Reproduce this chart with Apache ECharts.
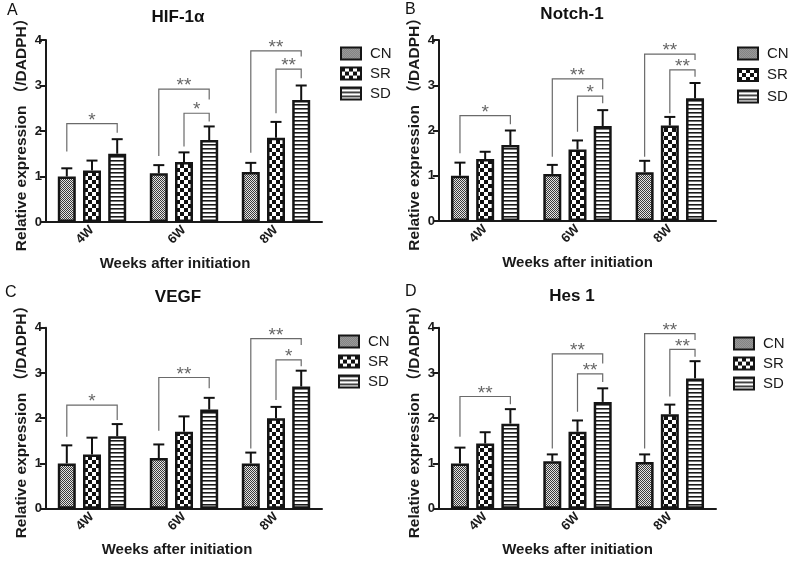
<!DOCTYPE html>
<html><head><meta charset="utf-8">
<script src="https://cdn.jsdelivr.net/npm/echarts@6/dist/echarts.min.js"></script>
<style>html,body{margin:0;padding:0;background:#fff}#c{width:792px;height:566px}</style>
</head><body><div id="c"></div>
<script>
// ---------------- data ----------------
const categories = ['4W', '6W', '8W'];
const groups = ['CN', 'SR', 'SD'];
const yTicks = [0, 1, 2, 3, 4];
const panelLetters = ['A', 'B', 'C', 'D'];
const panelTitles = ['HIF-1α', 'Notch-1', 'VEGF', 'Hes 1'];
const xAxisTitle = 'Weeks after initiation';
const yAxisTitle = 'Relative expression （/DADPH）';

// HIF-1α (mean, SD)
const hifCN = [1.00, 1.07, 1.10];
const hifSR = [1.13, 1.32, 1.85];
const hifSD = [1.50, 1.80, 2.68];
const hifCNsd = [0.18, 0.18, 0.20];
const hifSRsd = [0.22, 0.21, 0.35];
const hifSDsd = [0.32, 0.30, 0.32];
// [category, fromGroup, toGroup, bracketTop, leftLegEnd, rightLegEnd]
const hifBrackets = [[0, 0, 2, 2.16, 1.55, 1.96], [1, 0, 2, 2.92, 1.45, 2.69], [1, 1, 2, 2.39, 1.66, 2.21], [2, 0, 2, 3.76, 1.52, 3.64], [2, 1, 2, 3.36, 2.39, 3.16]];
const hifStars = ['*', '**', '*', '**', '**'];

// Notch-1
const notchCN = [1.00, 1.04, 1.08];
const notchSR = [1.37, 1.58, 2.11];
const notchSD = [1.68, 2.10, 2.71];
const notchCNsd = [0.29, 0.20, 0.25];
const notchSRsd = [0.16, 0.20, 0.19];
const notchSDsd = [0.32, 0.35, 0.34];
const notchBrackets = [[0, 0, 2, 2.33, 1.50, 2.14], [1, 0, 2, 3.14, 1.42, 2.91], [1, 1, 2, 2.76, 1.97, 2.60], [2, 0, 2, 3.69, 1.42, 3.56], [2, 1, 2, 3.34, 2.38, 3.19]];
const notchStars = ['*', '**', '*', '**', '**'];

// VEGF
const vegfCN = [1.00, 1.12, 1.00];
const vegfSR = [1.20, 1.70, 2.00];
const vegfSD = [1.60, 2.19, 2.70];
const vegfCNsd = [0.40, 0.30, 0.24];
const vegfSRsd = [0.37, 0.34, 0.25];
const vegfSDsd = [0.27, 0.26, 0.35];
const vegfBrackets = [[0, 0, 2, 2.29, 1.59, 1.96], [1, 0, 2, 2.90, 1.72, 2.66], [2, 0, 2, 3.76, 1.33, 3.62], [2, 1, 2, 3.29, 2.40, 3.15]];
const vegfStars = ['*', '**', '**', '*'];

// Hes 1
const hesCN = [1.00, 1.05, 1.03];
const hesSR = [1.44, 1.70, 2.09];
const hesSD = [1.88, 2.36, 2.88];
const hesCNsd = [0.35, 0.15, 0.17];
const hesSRsd = [0.25, 0.25, 0.21];
const hesSDsd = [0.32, 0.30, 0.38];
const hesBrackets = [[0, 0, 2, 2.48, 1.59, 2.31], [1, 0, 2, 3.42, 1.33, 3.21], [1, 1, 2, 2.98, 2.14, 2.80], [2, 0, 2, 3.87, 1.33, 3.73], [2, 1, 2, 3.52, 2.48, 3.36]];
const hesStars = ['**', '**', '**', '**', '**'];

// ---------------- styles / layout ----------------
const FONT = '"Liberation Sans", Arial, "Noto Sans CJK SC", sans-serif';
const BAR_W = 18;
const STEP = BAR_W * 1.4;

function mkPattern(kind) {
  const c = document.createElement('canvas');
  const g = c.getContext('2d');
  if (kind === 'fine') {
    c.width = 2; c.height = 2;
    g.fillStyle = '#e4e4e4'; g.fillRect(0, 0, 2, 2);
    g.fillStyle = '#3a3a3a'; g.fillRect(0, 0, 1, 1); g.fillRect(1, 1, 1, 1);
  } else if (kind === 'checker') {
    c.width = 8; c.height = 8;
    g.fillStyle = '#ffffff'; g.fillRect(0, 0, 8, 8);
    g.fillStyle = '#111111'; g.fillRect(0, 0, 4, 4); g.fillRect(4, 4, 4, 4);
  } else {
    c.width = 4; c.height = 4;
    g.fillStyle = '#ffffff'; g.fillRect(0, 0, 4, 4);
    g.fillStyle = '#1a1a1a'; g.fillRect(0, 0, 4, 1);
    g.fillStyle = '#777777'; g.fillRect(0, 1, 4, 1);
  }
  return { image: c, repeat: 'repeat' };
}
const patterns = [mkPattern('fine'), mkPattern('checker'), mkPattern('stripes')];

const panels = [
  { means: [hifCN, hifSR, hifSD], sds: [hifCNsd, hifSRsd, hifSDsd], br: hifBrackets, stars: hifStars,
    grid: { left: 46, top: 40, width: 276, height: 182 }, legend: { left: 335, top: 41, gap: 5 },
    title: [178, 17], letter: [7, 11], namePad: 18 },
  { means: [notchCN, notchSR, notchSD], sds: [notchCNsd, notchSRsd, notchSDsd], br: notchBrackets, stars: notchStars,
    grid: { left: 439, top: 40, width: 277, height: 181 }, legend: { left: 732, top: 41, gap: 6.5 },
    title: [572, 14], letter: [405, 10], namePad: 0 },
  { means: [vegfCN, vegfSR, vegfSD], sds: [vegfCNsd, vegfSRsd, vegfSDsd], br: vegfBrackets, stars: vegfStars,
    grid: { left: 46, top: 327.7, width: 276, height: 181 }, legend: { left: 333, top: 329, gap: 5 },
    title: [178, 297], letter: [5, 292.5], namePad: 14 },
  { means: [hesCN, hesSR, hesSD], sds: [hesCNsd, hesSRsd, hesSDsd], br: hesBrackets, stars: hesStars,
    grid: { left: 439, top: 327.7, width: 277, height: 181 }, legend: { left: 728, top: 331, gap: 5 },
    title: [572, 296.5], letter: [405, 292], namePad: 0 }
];

function errRender(gi) {
  return function (params, api) {
    const cat = api.value(0);
    const p0 = api.coord([cat, api.value(1)]);
    const p1 = api.coord([cat, api.value(2)]);
    const x = p0[0] + (gi - 1) * STEP;
    return {
      type: 'group', children: [
        { type: 'line', shape: { x1: x, y1: p0[1], x2: x, y2: p1[1] }, style: { stroke: '#111', lineWidth: 2 } },
        { type: 'line', shape: { x1: x - 5.5, y1: p1[1], x2: x + 5.5, y2: p1[1] }, style: { stroke: '#111', lineWidth: 2 } }
      ]
    };
  };
}

function bracketRender(br, stars) {
  return function (params, api) {
    const b = br[params.dataIndex];
    const pt = api.coord([b[0], b[3]]);
    const xl = pt[0] + (b[1] - 1) * STEP;
    const xr = pt[0] + (b[2] - 1) * STEP;
    const yt = pt[1];
    const yl = api.coord([b[0], b[4]])[1];
    const yr = api.coord([b[0], b[5]])[1];
    return {
      type: 'group', children: [
        { type: 'polyline', shape: { points: [[xl, yl], [xl, yt], [xr, yt], [xr, yr]] },
          style: { stroke: '#6a6a6a', lineWidth: 1.2, fill: null } },
        { type: 'text', x: (xl + xr) / 2, y: yt - 3,
          style: { text: stars[params.dataIndex], align: 'center', verticalAlign: 'middle',
                   textAlign: 'center', textVerticalAlign: 'middle',
                   fill: '#666', fontSize: 19, fontFamily: FONT } }
      ]
    };
  };
}

const option = {
  animation: false,
  backgroundColor: '#fff',
  grid: [], xAxis: [], yAxis: [], series: [], legend: [], graphic: []
};

panels.forEach((p, pi) => {
  option.grid.push(Object.assign({ containLabel: false }, p.grid));
  option.xAxis.push({
    type: 'category', gridIndex: pi, data: categories,
    name: xAxisTitle, nameLocation: 'middle', nameGap: 34,
    nameTextStyle: { fontSize: 15, fontWeight: 'bold', color: '#1a1a1a', fontFamily: FONT, padding: [0, p.namePad, 0, 0] },
    axisLine: { lineStyle: { color: '#1a1a1a', width: 2 } },
    axisTick: { alignWithLabel: true, length: 5, lineStyle: { color: '#1a1a1a', width: 2 } },
    axisLabel: { rotate: 45, interval: 0, fontSize: 13, fontWeight: 'bold', color: '#1a1a1a', fontFamily: FONT, margin: 6 },
    splitLine: { show: false }
  });
  option.yAxis.push({
    type: 'value', gridIndex: pi, min: yTicks[0], max: yTicks[yTicks.length - 1], interval: 1,
    name: yAxisTitle, nameLocation: 'middle', nameGap: 17,
    nameTextStyle: { fontSize: 15.5, fontWeight: 'bold', color: '#1a1a1a', fontFamily: FONT },
    axisLine: { show: true, lineStyle: { color: '#1a1a1a', width: 2 } },
    axisTick: { show: true, length: 6, lineStyle: { color: '#1a1a1a', width: 2 } },
    axisLabel: { fontSize: 13, fontWeight: 'bold', color: '#1a1a1a', fontFamily: FONT, margin: 4 },
    splitLine: { show: false }
  });
  groups.forEach((g, gi) => {
    option.series.push({
      type: 'bar', name: g, xAxisIndex: pi, yAxisIndex: pi, data: p.means[gi],
      barWidth: BAR_W, barGap: '40%',
      itemStyle: { color: patterns[gi], borderColor: '#151515', borderWidth: 2.5 },
      emphasis: { disabled: true }, z: 2
    });
  });
  groups.forEach((g, gi) => {
    option.series.push({
      type: 'custom', name: 'err-' + g + pi, xAxisIndex: pi, yAxisIndex: pi,
      renderItem: errRender(gi), encode: { x: 0, y: [1, 2] },
      data: categories.map((c, i) => [i, p.means[gi][i], p.means[gi][i] + p.sds[gi][i]]),
      z: 3, silent: true
    });
  });
  option.series.push({
    type: 'custom', name: 'sig' + pi, xAxisIndex: pi, yAxisIndex: pi,
    renderItem: bracketRender(p.br, p.stars), encode: { x: 0, y: 3 },
    data: p.br, z: 4, silent: true
  });
  option.legend.push({
    orient: 'vertical', left: p.legend.left, top: p.legend.top,
    data: groups, icon: 'rect', itemWidth: 20, itemHeight: 12, itemGap: p.legend.gap,
    selectedMode: false,
    itemStyle: { borderColor: '#151515', borderWidth: 2 },
    textStyle: { fontSize: 15, color: '#1a1a1a', fontFamily: FONT, padding: [0, 0, 0, 4] }
  });
  option.graphic.push({
    type: 'text', x: p.title[0], y: p.title[1],
    style: { text: panelTitles[pi], align: 'center', verticalAlign: 'middle', textAlign: 'center', textVerticalAlign: 'middle',
             fontSize: 17, fontWeight: 'bold', fontFamily: FONT, fill: '#111' }
  });
  option.graphic.push({
    type: 'text', x: p.letter[0], y: p.letter[1],
    style: { text: panelLetters[pi], align: 'left', verticalAlign: 'middle', textAlign: 'left', textVerticalAlign: 'middle',
             fontSize: 16, fontFamily: FONT, fill: '#111' }
  });
});

const chart = echarts.init(document.getElementById('c'), null, { renderer: 'canvas' });
chart.setOption(option);
</script>
</body></html>
